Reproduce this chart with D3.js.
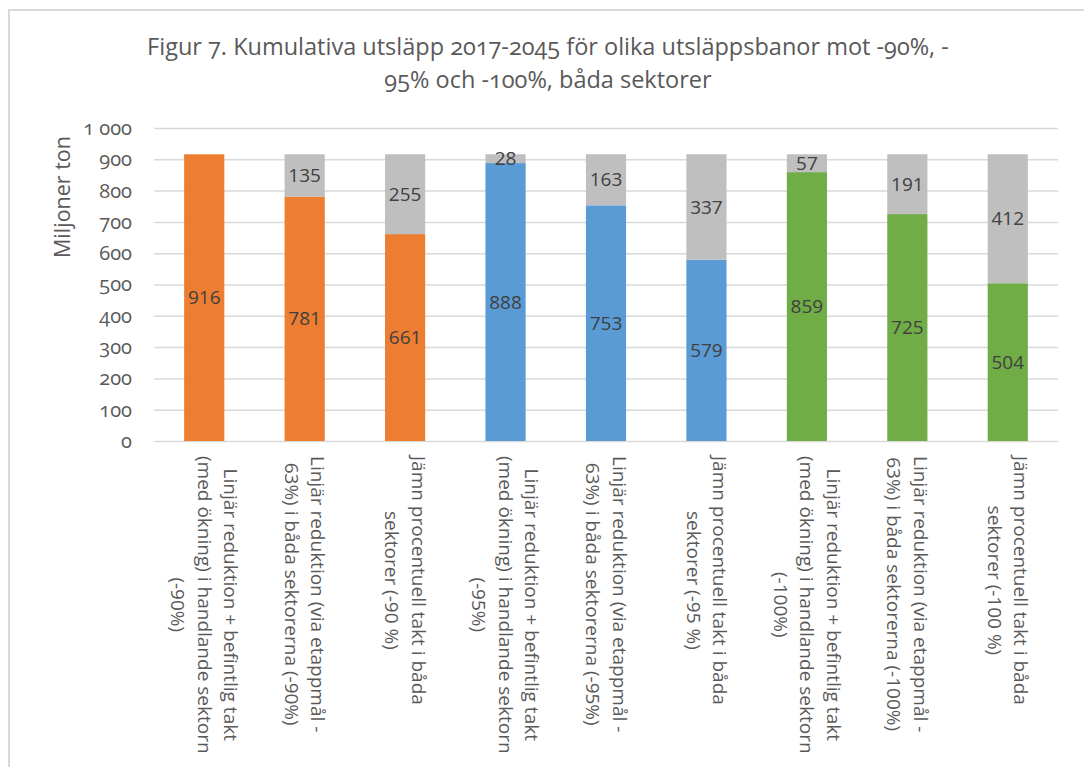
<!DOCTYPE html>
<html>
<head>
<meta charset="utf-8">
<script src="https://cdn.jsdelivr.net/npm/d3@7"></script>
<style>
  body { margin: 0; background: #fff; }
  svg { display: block; font-family: "Open Sans", sans-serif; }
  .onum { font-feature-settings: "onum"; font-variant-numeric: oldstyle-nums; }
</style>
</head>
<body>
<div id="chart"></div>
<script>
var categories = [
  ["Linjär reduktion + befintlig takt", "(med ökning) i handlande sektorn", "(-90%)"],
  ["Linjär reduktion (via etappmål -", "63%) i båda sektorerna (-90%)"],
  ["Jämn procentuell takt i båda", "sektorer (-90 %)"],
  ["Linjär reduktion + befintlig takt", "(med ökning) i handlande sektorn", "(-95%)"],
  ["Linjär reduktion (via etappmål -", "63%) i båda sektorerna (-95%)"],
  ["Jämn procentuell takt i båda", "sektorer (-95 %)"],
  ["Linjär reduktion + befintlig takt", "(med ökning) i handlande sektorn", "(-100%)"],
  ["Linjär reduktion (via etappmål -", "63%) i båda sektorerna (-100%)"],
  ["Jämn procentuell takt i båda", "sektorer (-100 %)"]
];
var baseValues = [916, 781, 661, 888, 753, 579, 859, 725, 504];
var gapValues = [null, 135, 255, 28, 163, 337, 57, 191, 412];
var baseColors = ["#ED7D31", "#ED7D31", "#ED7D31", "#5B9BD5", "#5B9BD5", "#5B9BD5", "#70AD47", "#70AD47", "#70AD47"];
var yTicks = [0, 100, 200, 300, 400, 500, 600, 700, 800, 900, 1000];
var titleLines = ["Figur 7. Kumulativa utsläpp 2017-2045 för olika utsläppsbanor mot -90%, -", "95% och -100%, båda sektorer"];
var yTitle = "Miljoner ton";

(function() {
  var W = 1084, H = 767;
  var pLeft = 154, pRight = 1058, pTop = 128, pBottom = 441;

  var svg = d3.select("#chart").append("svg")
    .attr("width", W)
    .attr("height", H);

  // chart frame
  svg.append("path")
    .attr("d", "M9,767 V10 H1084")
    .attr("fill", "none")
    .attr("stroke", "#D9D9D9")
    .attr("stroke-width", 2);

  var x = d3.scaleBand()
    .domain(d3.range(categories.length))
    .range([pLeft, pRight])
    .paddingInner(0.6)
    .paddingOuter(0.3);

  var y = d3.scaleLinear()
    .domain([0, 1000])
    .range([pBottom, pTop]);

  var fmt = d3.formatLocale({ decimal: ",", thousands: " ", grouping: [3], currency: ["", ""] }).format(",d");

  // gridlines + tick labels
  var yAxis = svg.append("g")
    .attr("transform", "translate(" + pLeft + ",0)")
    .call(d3.axisLeft(y).tickValues(yTicks).tickSize(-(pRight - pLeft)).tickPadding(22).tickFormat(fmt));
  yAxis.select(".domain").remove();
  yAxis.selectAll(".tick line")
    .attr("stroke", "#D9D9D9")
    .attr("stroke-width", 1.5);
  yAxis.selectAll(".tick text")
    .attr("class", "onum")
    .style("font-family", "'Open Sans', sans-serif")
    .style("font-size", "20px")
    .attr("fill", "#595959");

  // bars
  var g = svg.append("g");
  g.selectAll(".base").data(baseValues).enter().append("rect")
    .attr("x", function(d, i) { return x(i); })
    .attr("y", function(d) { return y(d); })
    .attr("width", x.bandwidth())
    .attr("height", function(d) { return y(0) - y(d); })
    .attr("fill", function(d, i) { return baseColors[i]; });

  var gapData = gapValues.map(function(d, i) { return { i: i, v: d }; })
    .filter(function(d) { return d.v != null; });
  g.selectAll(".gap").data(gapData).enter().append("rect")
    .attr("x", function(d) { return x(d.i); })
    .attr("y", function(d) { return y(baseValues[d.i] + d.v); })
    .attr("width", x.bandwidth())
    .attr("height", function(d) { return y(0) - y(d.v); })
    .attr("fill", "#BFBFBF");

  // data labels
  baseValues.forEach(function(v, i) {
    var cx = x(i) + x.bandwidth() / 2;
    svg.append("text")
      .attr("x", cx)
      .attr("y", y(v / 2))
      .attr("dy", "0.35em")
      .attr("text-anchor", "middle")
      .style("font-size", "19px")
      .attr("fill", "#404040")
      .text(v);
    if (gapValues[i] != null) {
      svg.append("text")
        .attr("x", cx)
        .attr("y", y(v + gapValues[i] / 2))
        .attr("dy", "0.35em")
        .attr("text-anchor", "middle")
        .style("font-size", "19px")
        .attr("fill", "#404040")
        .text(gapValues[i]);
    }
  });

  // category labels, rotated
  var lineH = 26.5;
  categories.forEach(function(lines, i) {
    var cx = x(i) + x.bandwidth() / 2;
    var lg = svg.append("g")
      .attr("transform", "translate(" + cx + ",456) rotate(90)");
    var texts = lines.map(function(s, j) {
      return lg.append("text")
        .attr("y", (j - (lines.length - 1) / 2) * lineH)
        .attr("dy", "0.35em")
        .style("font-size", "19px")
        .attr("fill", "#595959")
        .text(s);
    });
    var widths = texts.map(function(t) { return t.node().getComputedTextLength(); });
    var maxW = d3.max(widths);
    texts.forEach(function(t, j) { t.attr("x", (maxW - widths[j]) / 2); });
  });

  // y title
  svg.append("text")
    .attr("transform", "translate(62,197) rotate(-90)")
    .attr("dy", "0.35em")
    .attr("text-anchor", "middle")
    .style("font-size", "21.5px")
    .attr("fill", "#595959")
    .text(yTitle);

  // title
  svg.append("g").selectAll("text").data(titleLines).enter().append("text")
    .attr("class", "onum")
    .attr("x", 548)
    .attr("y", function(d, i) { return 55 + i * 33; })
    .attr("text-anchor", "middle")
    .style("font-size", "23.5px")
    .attr("fill", "#595959")
    .text(function(d) { return d; });
})();
</script>
</body>
</html>
